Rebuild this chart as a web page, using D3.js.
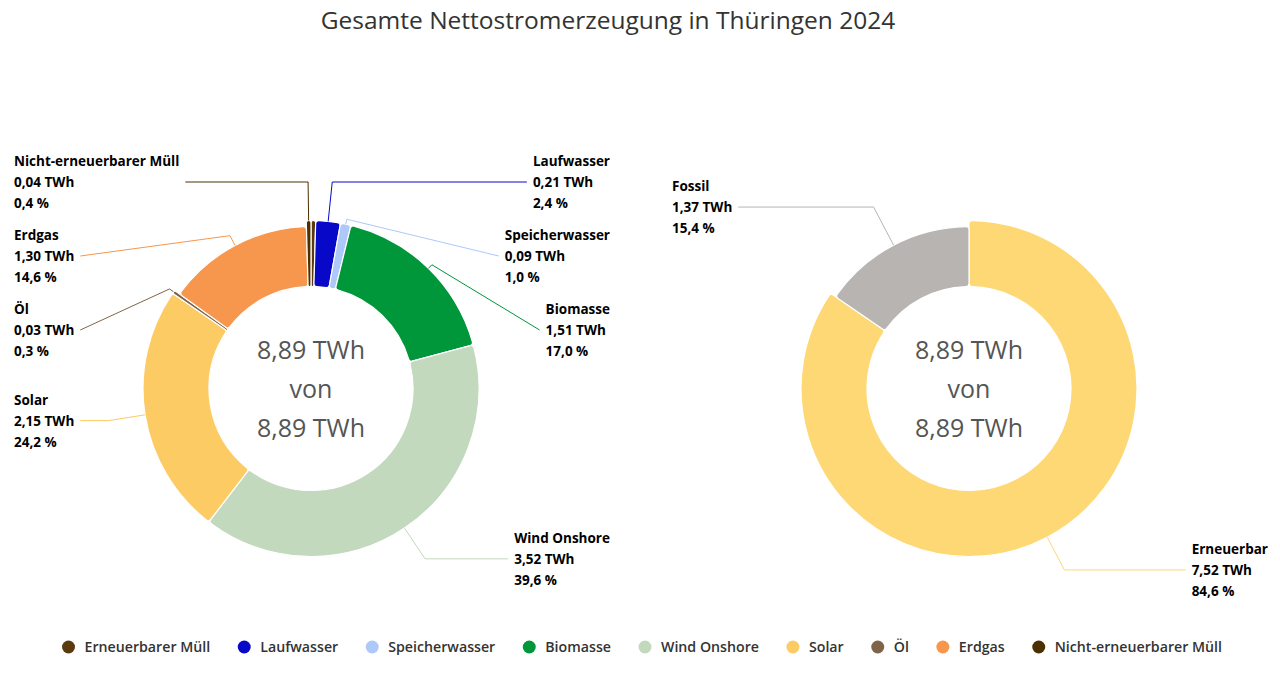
<!DOCTYPE html>
<html lang="de">
<head>
<meta charset="utf-8">
<title>Gesamte Nettostromerzeugung in Thüringen 2024</title>
<script src="https://cdn.jsdelivr.net/npm/d3@7"></script>
<style>
  html, body { margin: 0; padding: 0; background: #fff; }
  svg { display: block; }
</style>
</head>
<body>
<svg id="chart" width="1280" height="681"></svg>
<script>
// Daten in TWh
const quellen = ["Erneuerbarer Müll", "Laufwasser", "Speicherwasser", "Biomasse", "Wind Onshore", "Solar", "Öl", "Erdgas", "Nicht-erneuerbarer Müll"];
const quellenWerte = [0.04, 0.21, 0.09, 1.51, 3.52, 2.15, 0.03, 1.30, 0.04];
const quellenFarben = ["#5c3a10", "#0808c8", "#aec8fa", "#00963a", "#c3d9bd", "#fdcb64", "#7f6449", "#f7964d", "#4c3000"];

const gruppen = ["Erneuerbar", "Fossil"];
const gruppenWerte = [7.52, 1.37];
const gruppenFarben = ["#fed874", "#b8b4b1"];

const titel = "Gesamte Nettostromerzeugung in Thüringen 2024";
const einheit = "TWh";

// wie im Original: kein Label fuer Erneuerbarer Müll, Erdgas/Fossil etwas kleiner
const ohneLabel = ["Erneuerbarer Müll"];
const kleinereSegmente = ["Erdgas", "Fossil"];

const breite = 1280, hoehe = 681;
const cy = 388.5;
const rAussen = 168, rAussenKlein = 162, rInnen = 102;
const rLabel = 205;
const zeilenAbstand = 21;
const labelAbstand = 74;

const svg = d3.select("#chart");
const locale = d3.formatLocale({ decimal: ",", thousands: ".", grouping: [3], currency: ["", " €"] });
const f2 = locale.format(".2f");
const f1 = locale.format(".1f");

svg.append("text")
  .attr("x", 608)
  .attr("y", 29)
  .attr("text-anchor", "middle")
  .attr("font-family", "'Open Sans', sans-serif")
  .attr("font-size", 24.5)
  .attr("fill", "#333")
  .text(titel);

function verteile(items, minY, maxY) {
  items.sort((a, b) => a.natY - b.natY);
  let cluster = items.map(d => [d]);
  const start = c => {
    const s = d3.mean(c, d => d.natY) - (c.length - 1) * labelAbstand / 2;
    return Math.max(minY, Math.min(maxY - (c.length - 1) * labelAbstand, s));
  };
  let weiter = true;
  while (weiter) {
    weiter = false;
    for (let i = 0; i < cluster.length - 1; i++) {
      const ende = start(cluster[i]) + (cluster[i].length - 1) * labelAbstand;
      if (start(cluster[i + 1]) - ende < labelAbstand) {
        cluster.splice(i, 2, cluster[i].concat(cluster[i + 1]));
        weiter = true;
        break;
      }
    }
  }
  cluster.forEach(c => {
    const s = start(c);
    c.forEach((d, k) => d.y = s + k * labelAbstand);
  });
}

function zeichneDonut(namen, werte, farben, cx, plotLinks, plotRechts) {
  const daten = namen.map((n, i) => ({ name: n, wert: werte[i], farbe: farben[i] }));
  const summe = d3.sum(werte);

  const boegen = d3.pie().value(d => d.wert).sort(null)(daten);
  const radius = d => kleinereSegmente.includes(d.data.name) ? rAussenKlein : rAussen;
  const arc = d3.arc().innerRadius(rInnen).outerRadius(radius).cornerRadius(3);

  const g = svg.append("g");

  g.append("g")
    .attr("transform", `translate(${cx},${cy})`)
    .selectAll("path")
    .data(boegen)
    .join("path")
    .attr("d", arc)
    .attr("fill", d => d.data.farbe)
    .attr("stroke", "#fff")
    .attr("stroke-width", 1.2);

  // Text in der Mitte
  const mitte = [f2(summe) + " " + einheit, "von", f2(summe) + " " + einheit];
  g.append("g")
    .selectAll("text")
    .data(mitte)
    .join("text")
    .attr("x", cx)
    .attr("y", (d, i) => cy + (i - 1) * 39 + 9)
    .attr("text-anchor", "middle")
    .attr("font-family", "'Open Sans', sans-serif")
    .attr("font-size", 25)
    .attr("fill", "#555")
    .text(d => d);

  // Labels
  const labels = boegen
    .filter(b => !ohneLabel.includes(b.data.name))
    .map(b => {
      const winkel = (b.startAngle + b.endAngle) / 2;
      return {
        b: b,
        winkel: winkel,
        seite: winkel < Math.PI ? "rechts" : "links",
        natY: cy - rLabel * Math.cos(winkel)
      };
    });

  ["links", "rechts"].forEach(seite => {
    verteile(labels.filter(l => l.seite === seite), 182, hoehe - 90);
  });

  labels.forEach(l => {
    const d = l.b.data;
    const zeilen = [d.name, f2(d.wert) + " " + einheit, f1(d.wert / summe * 100) + " %"];
    const txt = g.append("text")
      .attr("font-family", "'Open Sans', sans-serif")
      .attr("font-weight", "bold")
      .attr("font-size", 13.5)
      .attr("fill", "#000");
    txt.selectAll("tspan")
      .data(zeilen)
      .join("tspan")
      .attr("x", 0)
      .attr("y", (z, i) => l.y + (i - 1) * zeilenAbstand + 5)
      .text(z => z);
    const w = txt.node().getBBox().width;
    const x = l.seite === "links" ? plotLinks : plotRechts - w;
    txt.selectAll("tspan").attr("x", x);

    // Verbindungslinie
    const r = radius(l.b);
    const sin = Math.sin(l.winkel), cos = Math.cos(l.winkel);
    const beruehrt = [cx + r * sin, cy - r * cos];
    let knick;
    const rKreuz = (cy - l.y) / cos;
    if (rKreuz >= rAussen + 8) {
      knick = [cx + rKreuz * sin, l.y];
    } else {
      knick = [cx + (rAussen + 5) * sin, cy - (rAussen + 5) * cos];
    }
    const anfang = l.seite === "links" ? [x + w + 6, l.y] : [x - 6, l.y];

    g.append("path")
      .attr("d", d3.line()([anfang, knick, beruehrt]))
      .attr("fill", "none")
      .attr("stroke", d.farbe)
      .attr("stroke-width", 1);
  });
}

zeichneDonut(quellen, quellenWerte, quellenFarben, 311, 14, 610);
zeichneDonut(gruppen, gruppenWerte, gruppenFarben, 969, 672, 1268);

// Legende
const legende = svg.append("g");
const eintraege = legende.selectAll("g")
  .data(quellen)
  .join("g");
eintraege.append("circle")
  .attr("r", 6.5)
  .attr("fill", (d, i) => quellenFarben[i]);
eintraege.append("text")
  .attr("x", 16)
  .attr("y", 5)
  .attr("font-family", "'Open Sans', sans-serif")
  .attr("font-weight", 600)
  .attr("font-size", 14.2)
  .attr("fill", "#333")
  .text(d => d);

let pos = 0;
const positionen = [];
eintraege.each(function () {
  const w = d3.select(this).select("text").node().getComputedTextLength();
  positionen.push(pos);
  pos += 16 + w + 34;
});
const gesamtBreite = pos - 34 + 6.5;
const start = 642 - gesamtBreite / 2 + 6.5;
eintraege.attr("transform", (d, i) => `translate(${start + positionen[i]},647)`);
</script>
</body>
</html>
